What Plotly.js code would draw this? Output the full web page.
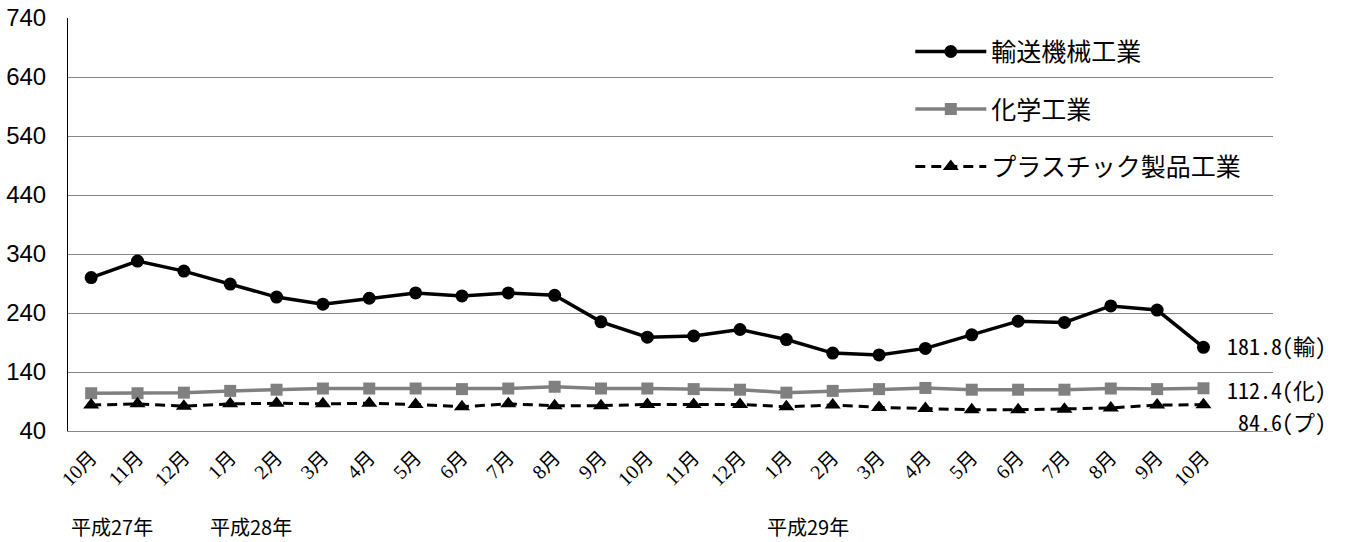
<!DOCTYPE html>
<html>
<head>
<meta charset="utf-8">
<script src="https://cdn.plot.ly/plotly-3.0.1.min.js"></script>
<style>
html,body{margin:0;padding:0;background:#fff;}
#chart{width:1347px;height:542px;}
</style>
</head>
<body>
<div id="chart"></div>
<script>
// ---- data ----
const months = ["10月","11月","12月","1月","2月","3月","4月","5月","6月","7月","8月","9月",
                "10月","11月","12月","1月","2月","3月","4月","5月","6月","7月","8月","9月","10月"];
const yearLabels = ["平成27年","平成28年","平成29年"];
const yearStartIndex = [0, 3, 15];
const seriesNames = ["輸送機械工業","化学工業","プラスチック製品工業"];
const shortNames = ["輸","化","プ"];
const transport = [300,328,311,289,267,255,265,274,269,274,270,225,199,201,212,195,172,169,180,203,226,224,252,245,181.8];
const chemical  = [104,104,105,108,110,112,112,112,111,112,115,112,112,111,110,105,108,111,113,110,110,110,112,111,112.4];
const plastic   = [84,86,82,86,87,86,87,85,81,86,83,83,85,85,85,81,84,80,78,76,76,77,79,84,84.6];
const yTicks = [40,140,240,340,440,540,640,740];

// ---- chart ----
const idx = months.map((_, i) => i);
const styles = [
  {color:"#000000", width:3.5, dash:"solid", symbol:"circle", size:13},
  {color:"#808080", width:3.5, dash:"solid", symbol:"square", size:12},
  {color:"#000000", width:3, dash:"10px,6px", symbol:"triangle-up", size:14}
];
const allSeries = [transport, chemical, plastic];
const traces = allSeries.map((vals, k) => ({
  type:"scatter", mode:"lines+markers", x: idx, y: vals, name: seriesNames[k],
  legendgroup: "g"+k,
  line:{color:styles[k].color, width:styles[k].width, dash:styles[k].dash},
  marker:{color:styles[k].color, symbol:styles[k].symbol, size:styles[k].size, line:{width:0}},
  hoverinfo:"skip"
}));

const endShifts = [2, -1, -16];
const annotations = allSeries.map((vals, k) => ({
  x: idx[idx.length-1], y: vals[vals.length-1], xref:"x", yref:"y",
  text: vals[vals.length-1].toFixed(1) + "(" + shortNames[k] + ")",
  showarrow:false, xanchor:"right", yanchor:"middle", xshift:124, yshift:endShifts[k],
  borderpad:0,
  font:{family:"Noto Sans Mono CJK JP, Noto Sans CJK JP", size:22, color:"#000"}
}));
yearLabels.forEach((t, j) => annotations.push({
  x: yearStartIndex[j] - 0.47, y: -0.232, xref:"x", yref:"paper",
  text: t, showarrow:false, xanchor:"left", yanchor:"middle",
  font:{family:"Noto Sans CJK JP", size:20, color:"#000"}
}));

const layout = {
  width:1347, height:542,
  margin:{l:68, r:74, t:18, b:111},
  paper_bgcolor:"#fff", plot_bgcolor:"#fff",
  font:{family:"Noto Sans CJK JP", color:"#000"},
  showlegend:true,
  legend:{
    x:0.699, y:0.974, xanchor:"left", yanchor:"top",
    bgcolor:"rgba(0,0,0,0)", borderwidth:0,
    font:{family:"Noto Sans CJK JP", size:25, color:"#000"},
    itemwidth:71, traceorder:"grouped", tracegroupgap:22
  },
  xaxis:{
    type:"linear", range:[-0.5, 25.5], tickmode:"array", tickvals: idx, ticktext: months,
    tickangle:-45, showgrid:false, zeroline:false, showline:true, linecolor:"#868686", linewidth:1,
    ticks:"", ticklabelstandoff:6,
    tickfont:{family:"Liberation Serif, Noto Sans CJK JP", size:20, color:"#000"}
  },
  yaxis:{
    range:[40, 740], tickmode:"array", tickvals:yTicks, ticktext:yTicks.map(String),
    showgrid:true, gridcolor:"#868686", gridwidth:1, zeroline:false,
    showline:true, linecolor:"#000", linewidth:1, ticks:"", ticklabelstandoff:16,
    tickfont:{family:"Liberation Sans Narrow, Liberation Sans, Arial", size:24, color:"#000"}
  },
  annotations: annotations
};

Plotly.newPlot("chart", traces, layout, {staticPlot:true, displayModeBar:false});
</script>
</body>
</html>
